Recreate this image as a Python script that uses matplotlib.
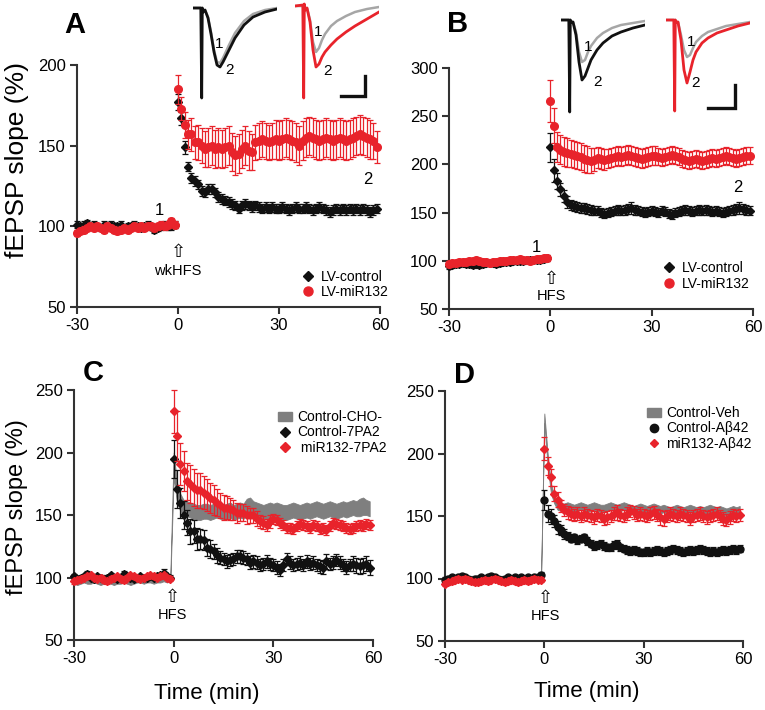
import numpy as np
import matplotlib
matplotlib.use('Agg')
import matplotlib.pyplot as plt
from matplotlib.patches import Patch
from matplotlib.lines import Line2D

plt.rcParams['font.family'] = ['Liberation Sans', 'DejaVu Sans']
plt.rcParams['axes.unicode_minus'] = False

W, H = 765, 710
RED = '#e8232b'
BLACK = '#111111'
GREY = '#7f7f7f'
SPINE = '#333333'

# sample times (min)
t_pre = np.arange(-30, 0)
t_post = np.arange(0, 60)

# ---------------- Panel A ----------------
a_ctrl_pre = [101, 100, 101, 102, 100, 101, 100, 99, 101, 100,
              101, 100, 100, 101, 99, 100, 100, 101, 100, 99,
              100, 101, 100, 98, 99, 100, 101, 100, 100, 101]
a_ctrl_post = [177, 167, 149, 137, 130, 128, 126, 122, 121, 123,
               123, 121, 118, 117, 116, 115, 114, 113, 111, 113,
               114, 113, 112, 113, 112, 111, 112, 111, 112, 111,
               111, 112, 111, 110, 111, 112, 111, 111, 112, 111,
               110, 111, 112, 111, 110, 109, 110, 111, 110, 111,
               110, 111, 110, 111, 110, 111, 110, 109, 110, 111]
a_ctrl_err_pre = [2, 2, 2, 2, 2, 2, 2, 2, 2, 2, 2, 2, 2, 2, 2,
                  2, 2, 2, 2, 2, 2, 2, 2, 2, 2, 2, 2, 2, 2, 2]
a_ctrl_err_post = [5, 4, 4, 3, 3, 3, 3, 3, 3, 3,
                   3, 3, 3, 3, 3, 3, 3, 3, 3, 3,
                   3, 3, 3, 3, 3, 3, 3, 3, 3, 3,
                   3, 3, 3, 3, 3, 3, 3, 3, 3, 3,
                   3, 3, 3, 3, 3, 3, 3, 3, 3, 3,
                   3, 3, 3, 3, 3, 3, 3, 3, 3, 3]
a_mir_pre = [96, 97, 98, 99, 100, 99, 100, 99, 98, 100,
             99, 98, 97, 98, 99, 98, 99, 100, 99, 100,
             99, 100, 100, 99, 100, 101, 100, 101, 103, 101]
a_mir_post = [185, 173, 163, 157, 157, 152, 152, 150, 148, 149,
              150, 148, 149, 148, 149, 150, 146, 144, 145, 148,
              150, 147, 146, 152, 153, 154, 153, 152, 153, 154,
              153, 154, 155, 154, 153, 152, 150, 153, 155, 156,
              155, 154, 153, 154, 155, 154, 153, 154, 155, 154,
              153, 154, 155, 156, 157, 156, 155, 154, 153, 149]
a_mir_err_pre = [2, 2, 2, 2, 2, 2, 2, 2, 2, 2, 2, 2, 2, 2, 2,
                 2, 2, 2, 2, 2, 2, 2, 2, 2, 2, 2, 2, 2, 2, 2]
a_mir_err_post = [9, 7, 8, 9, 10, 10, 11, 11, 11, 12,
                  12, 12, 12, 12, 12, 12, 12, 12, 12, 12,
                  12, 12, 11, 11, 11, 11, 11, 11, 11, 12,
                  12, 12, 12, 12, 12, 12, 12, 12, 12, 12,
                  12, 12, 12, 12, 12, 12, 12, 12, 12, 12,
                  12, 12, 12, 12, 12, 12, 12, 12, 11, 10]

# ---------------- Panel B ----------------
b_ctrl_pre = [95, 96, 97, 97, 98, 97, 97, 96, 97, 96,
              97, 98, 98, 98, 97, 98, 99, 99, 99, 100,
              100, 100, 100, 101, 101, 101, 101, 101, 102, 103]
b_ctrl_post = [218, 194, 183, 174, 167, 161, 158, 157, 156, 155,
               155, 154, 153, 152, 152, 150, 149, 150, 151, 152,
               153, 152, 153, 154, 155, 153, 152, 151, 150, 151,
               152, 151, 150, 152, 151, 149, 148, 150, 151, 152,
               153, 152, 151, 152, 153, 152, 153, 152, 151, 152,
               151, 150, 151, 152, 153, 154, 155, 154, 153, 152]
b_ctrl_err_pre = [3, 3, 3, 3, 3, 3, 3, 3, 3, 3, 3, 3, 3, 3, 3,
                  3, 3, 3, 3, 3, 3, 3, 3, 3, 3, 3, 3, 3, 3, 3]
b_ctrl_err_post = [15, 12, 8, 7, 6, 6, 5, 5, 5, 5,
                   5, 5, 5, 5, 5, 5, 5, 5, 5, 5,
                   5, 5, 5, 5, 6, 5, 5, 5, 5, 5,
                   5, 5, 5, 5, 5, 5, 5, 5, 5, 5,
                   5, 5, 5, 5, 5, 5, 5, 5, 5, 5,
                   5, 5, 5, 5, 5, 5, 6, 5, 5, 5]
b_mir_pre = [97, 98, 98, 99, 99, 99, 100, 100, 101, 100,
             99, 99, 98, 99, 99, 100, 100, 100, 101, 101,
             101, 102, 101, 101, 100, 101, 102, 102, 103, 103]
b_mir_post = [266, 240, 218, 215, 213, 212, 211, 210, 209, 208,
              206, 205, 204, 205, 207, 206, 205, 206, 207, 208,
              209, 208, 209, 210, 209, 208, 207, 206, 207, 208,
              209, 209, 208, 207, 208, 209, 210, 209, 208, 206,
              205, 204, 205, 206, 205, 204, 205, 206, 207, 206,
              207, 208, 209, 208, 207, 206, 207, 208, 209, 209]
b_mir_err_pre = [3, 3, 3, 3, 3, 3, 3, 3, 3, 3, 3, 3, 3, 3, 3,
                 3, 3, 3, 3, 3, 3, 3, 3, 3, 3, 3, 3, 3, 3, 3]
b_mir_err_post = [22, 18, 16, 15, 15, 15, 14, 14, 14, 14,
                  14, 14, 13, 12, 11, 11, 11, 10, 10, 10,
                  10, 10, 10, 10, 10, 10, 10, 10, 10, 10,
                  10, 10, 9, 9, 9, 9, 9, 9, 9, 9,
                  9, 9, 9, 9, 9, 9, 9, 9, 9, 9,
                  9, 9, 9, 9, 9, 9, 9, 9, 9, 9]

# ---------------- Panel C ----------------
c_cho_pre = [98, 97, 98, 99, 98, 98, 99, 98, 97, 98,
             99, 98, 97, 98, 98, 99, 98, 97, 98, 99,
             99, 98, 99, 99, 98, 99, 99, 100, 99, 100]
c_cho_post = [190, 168, 160, 156, 155, 154, 153, 152, 152, 153,
              153, 152, 153, 154, 153, 152, 153, 154, 152, 153,
              154, 153, 156, 157, 155, 154, 153, 152, 153, 154,
              153, 154, 153, 152, 152, 153, 154, 153, 152, 153,
              154, 153, 154, 155, 154, 153, 154, 155, 154, 153,
              154, 155, 154, 155, 156, 155, 156, 157, 156, 155]
c_cho_sem_pre = [3, 3, 3, 3, 3, 3, 3, 3, 3, 3, 3, 3, 3, 3, 3,
                 3, 3, 3, 3, 3, 3, 3, 3, 3, 3, 3, 3, 3, 3, 3]
c_cho_sem_post = [10, 8, 7, 6, 6, 6, 6, 6, 6, 6,
                  6, 6, 6, 6, 6, 6, 6, 6, 6, 6,
                  6, 6, 7, 7, 6, 6, 6, 6, 6, 6,
                  6, 6, 6, 6, 6, 6, 6, 6, 6, 6,
                  6, 6, 6, 6, 6, 6, 6, 6, 6, 6,
                  6, 6, 6, 6, 6, 6, 7, 7, 6, 6]
c_ctrl_pre = [101, 99, 100, 101, 103, 100, 99, 101, 100, 99,
              100, 102, 100, 99, 100, 103, 101, 100, 99, 100,
              101, 100, 100, 101, 100, 101, 102, 104, 101, 100]
c_ctrl_post = [195, 171, 160, 150, 144, 137, 137, 131, 131, 130,
               124, 123, 121, 118, 116, 115, 113, 114, 115, 117,
               117, 116, 115, 112, 113, 112, 110, 111, 113, 111,
               110, 108, 106, 110, 115, 112, 110, 111, 112, 110,
               113, 111, 112, 110, 109, 108, 113, 111, 112, 114,
               112, 110, 108, 110, 111, 110, 109, 110, 111, 108]
c_ctrl_err_pre = [2, 2, 2, 2, 2, 2, 2, 2, 2, 2, 2, 2, 2, 2, 2,
                  2, 2, 2, 2, 2, 2, 2, 2, 2, 2, 2, 2, 3, 2, 2]
c_ctrl_err_post = [15, 15, 12, 11, 10, 10, 9, 9, 8, 8,
                   7, 7, 6, 6, 5, 5, 5, 5, 5, 5,
                   5, 5, 5, 5, 5, 5, 5, 5, 5, 5,
                   5, 5, 5, 5, 5, 5, 5, 5, 5, 5,
                   5, 5, 5, 5, 5, 5, 6, 5, 5, 5,
                   5, 5, 5, 5, 6, 6, 6, 6, 6, 6]
c_mir_pre = [97, 98, 99, 100, 101, 102, 100, 99, 100, 98,
             97, 99, 100, 101, 99, 98, 100, 102, 101, 100,
             99, 100, 101, 102, 101, 100, 101, 102, 100, 99]
c_mir_post = [233, 213, 191, 185, 177, 175, 172, 170, 170, 168,
              166, 164, 162, 160, 158, 156, 156, 155, 154, 152,
              152, 152, 150, 150, 150, 147, 145, 144, 142, 145,
              147, 146, 144, 142, 140, 140, 139, 141, 143, 142,
              141, 140, 142, 141, 139, 140, 138, 141, 144, 143,
              142, 141, 140, 139, 140, 141, 142, 141, 143, 142]
c_mir_err_pre = [2, 2, 2, 2, 2, 2, 2, 2, 2, 2, 2, 2, 2, 2, 2,
                 2, 2, 2, 2, 2, 2, 2, 2, 2, 2, 2, 2, 2, 2, 2]
c_mir_err_post = [17, 20, 17, 16, 15, 15, 15, 14, 14, 13,
                  13, 12, 12, 11, 10, 10, 9, 9, 8, 8,
                  7, 7, 7, 6, 6, 6, 5, 5, 5, 5,
                  4, 4, 4, 4, 4, 4, 4, 4, 4, 4,
                  4, 4, 4, 4, 4, 4, 4, 4, 4, 4,
                  4, 4, 4, 4, 4, 4, 4, 4, 4, 4]

# ---------------- Panel D ----------------
d_veh_pre = [97, 98, 99, 100, 101, 100, 99, 100, 99, 98,
             97, 98, 99, 100, 101, 100, 99, 100, 99, 98,
             99, 100, 99, 100, 99, 98, 99, 100, 99, 100]
d_veh_post = [228, 195, 172, 163, 158, 157, 157, 158, 157, 156,
              157, 158, 157, 156, 157, 158, 157, 156, 156, 157,
              158, 157, 156, 157, 158, 157, 156, 155, 156, 157,
              156, 155, 156, 157, 156, 155, 156, 155, 154, 155,
              156, 155, 154, 155, 156, 155, 154, 155, 154, 155,
              156, 155, 154, 155, 154, 153, 154, 155, 154, 155]
d_veh_sem_pre = [2, 2, 2, 2, 2, 2, 2, 2, 2, 2, 2, 2, 2, 2, 2,
                 2, 2, 2, 2, 2, 2, 2, 2, 2, 2, 2, 2, 2, 2, 2]
d_veh_sem_post = [4, 5, 4, 3, 3, 3, 3, 3, 3, 3,
                  3, 3, 3, 3, 3, 3, 3, 3, 3, 3,
                  3, 3, 3, 3, 3, 3, 3, 3, 3, 3,
                  3, 3, 3, 3, 3, 3, 3, 3, 3, 3,
                  3, 3, 3, 3, 3, 3, 3, 3, 3, 3,
                  3, 3, 3, 3, 3, 3, 3, 3, 3, 3]
d_ctrl_pre = [99, 100, 101, 100, 101, 102, 101, 100, 99, 100,
              100, 101, 100, 101, 102, 101, 100, 99, 100, 101,
              100, 101, 100, 101, 100, 101, 100, 101, 101, 103]
d_ctrl_post = [163, 152, 150, 146, 141, 139, 136, 134, 132, 133,
               131, 132, 133, 130, 128, 126, 127, 128, 126, 125,
               125, 127, 128, 125, 124, 123, 122, 123, 122, 121,
               121, 122, 121, 122, 123, 122, 121, 122, 123, 124,
               123, 122, 121, 122, 123, 122, 123, 124, 123, 122,
               121, 122, 121, 122, 123, 122, 123, 124, 123, 124]
d_ctrl_err_pre = [2, 2, 2, 2, 2, 2, 2, 2, 2, 2, 2, 2, 2, 2, 2,
                  2, 2, 2, 2, 2, 2, 2, 2, 2, 2, 2, 2, 2, 2, 2]
d_ctrl_err_post = [8, 7, 6, 5, 5, 4, 4, 3, 3, 3,
                   3, 3, 3, 3, 3, 3, 3, 3, 3, 3,
                   3, 3, 3, 3, 3, 3, 3, 3, 3, 3,
                   3, 3, 3, 3, 3, 3, 3, 3, 3, 3,
                   3, 3, 3, 3, 3, 3, 3, 3, 3, 3,
                   3, 3, 3, 3, 3, 3, 3, 3, 3, 3]
d_mir_pre = [96, 97, 98, 99, 100, 99, 100, 99, 98, 97,
             97, 98, 99, 98, 99, 100, 99, 98, 97, 98,
             99, 98, 97, 98, 99, 98, 99, 100, 99, 99]
d_mir_post = [204, 190, 181, 168, 163, 158, 155, 153, 152, 151,
              152, 150, 152, 151, 150, 149, 151, 150, 148, 149,
              150, 152, 153, 151, 150, 152, 154, 153, 151, 152,
              151, 150, 152, 153, 151, 149, 148, 150, 152, 151,
              150, 152, 151, 150, 148, 150, 151, 152, 150, 149,
              150, 151, 152, 150, 148, 147, 149, 151, 150, 151]
d_mir_err_pre = [2, 2, 2, 2, 2, 2, 2, 2, 2, 2, 2, 2, 2, 2, 2,
                 2, 2, 2, 2, 2, 2, 2, 2, 2, 2, 2, 2, 2, 2, 2]
d_mir_err_post = [9, 7, 7, 6, 6, 5, 5, 5, 5, 5,
                  5, 5, 5, 5, 5, 5, 5, 5, 5, 5,
                  5, 5, 6, 5, 5, 5, 5, 5, 5, 5,
                  5, 5, 5, 5, 5, 6, 6, 5, 5, 5,
                  5, 5, 5, 5, 5, 5, 5, 5, 5, 5,
                  5, 5, 5, 5, 5, 5, 5, 5, 5, 5]

# ---------------- example traces (ms, mV) ----------------
tr_t = [-2, 0.6, 0.9, 1.1, 1.4, 2, 3, 4, 5, 6, 7, 8, 10, 12, 15, 18, 22, 26]
trA_ctrl_1 = [0, 0, 0, 0, -0.08, -0.04, -0.18, -0.48, -0.84, -1.08, -1.10, -1.00,
              -0.74, -0.50, -0.26, -0.12, -0.04, 0.0]
trA_ctrl_2 = [0, 0, -1.80, 0, -0.08, -0.04, -0.20, -0.52, -0.88, -1.14, -1.18, -1.08,
              -0.84, -0.60, -0.34, -0.18, -0.08, -0.02]
trA_mir_1 = [0, 0, 0, 0, -0.08, -0.04, -0.28, -0.72, -0.92, -0.84, -0.68, -0.56,
             -0.40, -0.30, -0.20, -0.12, -0.06, -0.02]
trA_mir_2 = [0, 0.02, -1.84, 0.04, -0.08, -0.04, -0.32, -0.88, -1.22, -1.16, -1.02, -0.92,
             -0.78, -0.66, -0.52, -0.40, -0.26, -0.12]
trB_ctrl_1 = [0, 0, 0, 0, -0.04, -0.04, -0.24, -0.64, -0.84, -0.80, -0.64, -0.52,
              -0.36, -0.26, -0.16, -0.10, -0.06, -0.02]
trB_ctrl_2 = [0, 0, -1.84, 0, -0.04, -0.04, -0.30, -0.84, -1.20, -1.12, -0.96, -0.80,
              -0.60, -0.46, -0.32, -0.24, -0.16, -0.10]
trB_mir_1 = [0, 0, 0, 0, -0.04, -0.04, -0.30, -0.60, -0.74, -0.70, -0.56, -0.44,
             -0.32, -0.24, -0.18, -0.12, -0.08, -0.04]
trB_mir_2 = [0, 0, -1.82, 0, -0.04, -0.04, -0.40, -1.00, -1.26, -1.04, -0.80, -0.64,
             -0.46, -0.36, -0.26, -0.20, -0.12, -0.06]


def fx(x):
    return x / W


def fy(y):
    return 1 - y / H


def px_axes(x0, y0, x1, y1):
    return fig.add_axes([fx(x0), fy(y1), fx(x1) - fx(x0), fy(y0) - fy(y1)])


def style(ax, ymax, yticks):
    ax.set_xlim(-30, 60)
    ax.set_ylim(50, ymax)
    ax.set_xticks([-30, 0, 30, 60])
    ax.set_yticks(yticks)
    for s in ['top', 'right']:
        ax.spines[s].set_visible(False)
    for s in ['left', 'bottom']:
        ax.spines[s].set_linewidth(1.5)
        ax.spines[s].set_color(SPINE)
    ax.tick_params(direction='out', length=5, width=1.5, color=SPINE,
                   labelsize=12, pad=3)
    ax.patch.set_alpha(0)


def series(ax, pre, post, epre, epost, color, marker, ms, z):
    t = np.concatenate([t_pre, t_post])
    y = np.array(pre + post)
    e = np.array(epre + epost)
    cont = ax.errorbar(t, y, yerr=e, fmt=marker, ls='none', color=color, mec=color,
                       mfc=color, ms=ms, elinewidth=0.9, capsize=2.3, capthick=0.9,
                       zorder=z)
    for art in cont.get_children():
        art.set_clip_on(False)


def band(ax, pre, post, spre, spost):
    t = np.concatenate([t_pre, t_post])
    y = np.array(pre + post)
    s = np.array(spre + spost)
    ax.fill_between(t, y - s, y + s, color=GREY, lw=0.6, ec=GREY, zorder=1,
                    clip_on=False)


def traces(ax, tr1, tr2, col2, ylim):
    ax.plot(tr_t, tr1, color='#a6a6a6', lw=1.8, solid_joinstyle='round')
    ax.plot(tr_t, tr2, color=col2, lw=2.0, solid_joinstyle='round')
    ax.set_xlim(-2, 26)
    ax.set_ylim(*ylim)
    ax.axis('off')


fig = plt.figure(figsize=(W / 100, H / 100), dpi=100)

axA = px_axes(77, 65, 380, 307)
axB = px_axes(449, 68, 753, 309)
axC = px_axes(74, 390, 373, 640)
axD = px_axes(445, 391, 743, 641)

# A
style(axA, 200, [50, 100, 150, 200])
series(axA, a_ctrl_pre, a_ctrl_post, a_ctrl_err_pre, a_ctrl_err_post, BLACK, 'D', 4.2, 3)
series(axA, a_mir_pre, a_mir_post, a_mir_err_pre, a_mir_err_post, RED, 'o', 5.5, 4)
axA.legend(handles=[Line2D([], [], ls='none', marker='D', ms=5, color=BLACK),
                    Line2D([], [], ls='none', marker='o', ms=6.5, color=RED)],
           labels=['LV-control', 'LV-miR132'], loc='upper left',
           bbox_to_anchor=(fx(301), fy(270)), bbox_transform=fig.transFigure,
           frameon=False, fontsize=10, handlelength=1, handletextpad=0.4,
           labelspacing=0.05, borderpad=0, borderaxespad=0)

# B
style(axB, 300, [50, 100, 150, 200, 250, 300])
series(axB, b_ctrl_pre, b_ctrl_post, b_ctrl_err_pre, b_ctrl_err_post, BLACK, 'D', 4.2, 3)
series(axB, b_mir_pre, b_mir_post, b_mir_err_pre, b_mir_err_post, RED, 'o', 5.5, 4)
axB.legend(handles=[Line2D([], [], ls='none', marker='D', ms=5, color=BLACK),
                    Line2D([], [], ls='none', marker='o', ms=6.5, color=RED)],
           labels=['LV-control', 'LV-miR132'], loc='upper left',
           bbox_to_anchor=(fx(662), fy(261)), bbox_transform=fig.transFigure,
           frameon=False, fontsize=10, handlelength=1, handletextpad=0.4,
           labelspacing=0.15, borderpad=0, borderaxespad=0)

# C
style(axC, 250, [50, 100, 150, 200, 250])
band(axC, c_cho_pre, c_cho_post, c_cho_sem_pre, c_cho_sem_post)
series(axC, c_ctrl_pre, c_ctrl_post, c_ctrl_err_pre, c_ctrl_err_post, BLACK, 'D', 4.2, 3)
series(axC, c_mir_pre, c_mir_post, c_mir_err_pre, c_mir_err_post, RED, 'D', 4.2, 4)
axC.legend(handles=[Patch(color=GREY),
                    Line2D([], [], ls='none', marker='D', ms=5, color=BLACK),
                    Line2D([], [], ls='none', marker='D', ms=5, color=RED)],
           labels=['Control-CHO-', 'Control-7PA2', ' miR132-7PA2'], loc='upper left',
           bbox_to_anchor=(fx(278), fy(410)), bbox_transform=fig.transFigure,
           frameon=False, fontsize=10, handlelength=1, handleheight=0.6,
           handletextpad=0.4, labelspacing=0.1, borderpad=0, borderaxespad=0)

# D
style(axD, 250, [50, 100, 150, 200, 250])
band(axD, d_veh_pre, d_veh_post, d_veh_sem_pre, d_veh_sem_post)
series(axD, d_ctrl_pre, d_ctrl_post, d_ctrl_err_pre, d_ctrl_err_post, BLACK, 'o', 5.0, 3)
series(axD, d_mir_pre, d_mir_post, d_mir_err_pre, d_mir_err_post, RED, 'D', 3.8, 4)
axD.legend(handles=[Patch(color=GREY),
                    Line2D([], [], ls='none', marker='o', ms=6, color=BLACK),
                    Line2D([], [], ls='none', marker='D', ms=4.5, color=RED)],
           labels=['Control-Veh', 'Control-A\u03b242', 'miR132-A\u03b242'], loc='upper left',
           bbox_to_anchor=(fx(647), fy(406)), bbox_transform=fig.transFigure,
           frameon=False, fontsize=10, handlelength=1, handleheight=0.6,
           handletextpad=0.4, labelspacing=0.1, borderpad=0, borderaxespad=0)

# stimulation markers
for (ax_x, ay, ty, lab) in [(178, 252, 271, 'wkHFS'), (551, 279, 296, 'HFS'),
                            (172, 597, 615, 'HFS'), (545, 598, 616, 'HFS')]:
    fig.text(fx(ax_x), fy(ay), '\u21e7', ha='center', va='center', fontsize=13,
             family='DejaVu Sans')
    fig.text(fx(ax_x), fy(ty), lab, ha='center', va='center', fontsize=10.5)

# "1" / "2" markers on time courses
for (x, y, s) in [(159, 210, '1'), (368, 180, '2'), (536, 247, '1'), (738, 187, '2')]:
    fig.text(fx(x), fy(y), s, ha='center', va='center', fontsize=12)

# panel letters
for (x, y, s) in [(75, 25, 'A'), (458, 24, 'B'), (93, 373, 'C'), (465, 375, 'D')]:
    fig.text(fx(x), fy(y), s, ha='center', va='center', fontsize=21, weight='bold')

# axis labels
fig.text(fx(17), fy(160), 'fEPSP slope (%)', rotation=90, ha='center', va='center',
         fontsize=19)
fig.text(fx(17), fy(507), 'fEPSP slope (%)', rotation=90, ha='center', va='center',
         fontsize=17)
fig.text(fx(207), fy(694), 'Time (min)', ha='center', va='center', fontsize=16)
fig.text(fx(587), fy(692), 'Time (min)', ha='center', va='center', fontsize=16)

# example traces, panel A
insA1 = px_axes(193, 0, 277, 100)
traces(insA1, trA_ctrl_1, trA_ctrl_2, BLACK, (-1.84, 0.16))
insA2 = px_axes(295, 0, 379, 100)
traces(insA2, trA_mir_1, trA_mir_2, RED, (-1.88, 0.12))
insA2.plot([13.3, 21.3, 21.3], [-1.80, -1.80, -1.40], color=BLACK, lw=2.4,
           solid_joinstyle='miter', clip_on=False)

# example traces, panel B
insB1 = px_axes(561, 10, 645, 115)
traces(insB1, trB_ctrl_1, trB_ctrl_2, BLACK, (-1.9, 0.2))
insB2 = px_axes(666, 10, 750, 115)
traces(insB2, trB_mir_1, trB_mir_2, RED, (-1.9, 0.2))
insB2.plot([12, 21, 21], [-1.76, -1.76, -1.30], color=BLACK, lw=2.4,
           solid_joinstyle='miter', clip_on=False)

for (x, y, s) in [(219, 44, '1'), (230, 70, '2'), (318, 32, '1'), (327, 71, '2'),
                  (588, 47, '1'), (597, 82, '2'), (691, 42, '1'), (695, 83, '2')]:
    fig.text(fx(x), fy(y), s, ha='center', va='center', fontsize=11)

fig.savefig('out.png', dpi=100)
